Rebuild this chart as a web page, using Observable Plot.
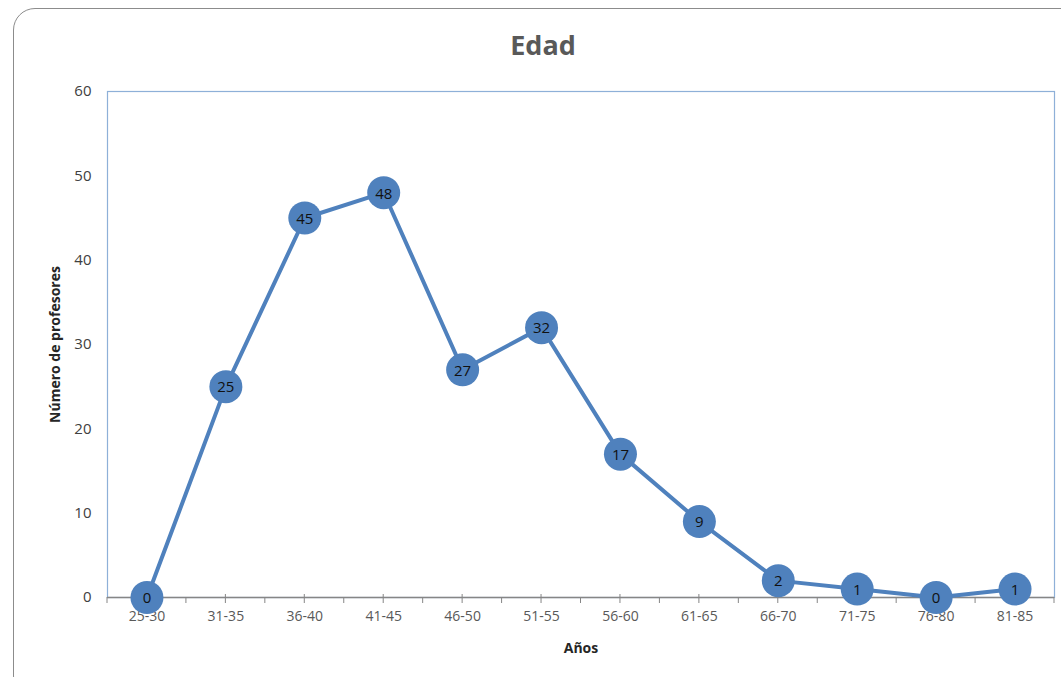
<!DOCTYPE html>
<html>
<head>
<meta charset="utf-8">
<script src="https://cdn.jsdelivr.net/npm/d3@7"></script>
<script src="https://cdn.jsdelivr.net/npm/@observablehq/plot@0.6"></script>
<style>
  html, body { margin: 0; padding: 0; background: #fff; }
  #wrap { position: relative; width: 1061px; height: 677px; overflow: hidden; font-family: "Open Sans", "Noto Sans", sans-serif; }
  #box { position: absolute; left: 13px; top: 8px; width: 1070px; height: 690px; border: 1.5px solid #8c8c8c; border-radius: 22px; box-sizing: border-box; }
  #title { position: absolute; left: 443px; width: 200px; top: 26px; text-align: center; font-size: 27px; font-weight: bold; color: #595959; }
  #chart { position: absolute; left: 0; top: 0; }
</style>
</head>
<body>
<div id="wrap">
  <div id="box"></div>
  <div id="title">Edad</div>
  <div id="chart"></div>
</div>
<script>
const categories = ["25-30","31-35","36-40","41-45","46-50","51-55","56-60","61-65","66-70","71-75","76-80","81-85"];
const values = [0, 25, 45, 48, 27, 32, 17, 9, 2, 1, 0, 1];
const yTicks = [0, 10, 20, 30, 40, 50, 60];
const yLabel = "Número de profesores";
const xLabel = "Años";

const data = categories.map((c, i) => ({cat: c, v: values[i]}));
const blue = "#4f81bd";

function boundaryTicks(index, scales, values, dimensions) {
  const x = scales.x, y = scales.y;
  const step = x(categories[1]) - x(categories[0]);
  const g = d3.create("svg:g");
  const y0 = y(0);
  const bounds = categories.map(c => x(c) - step / 2).concat([x(categories[categories.length - 1]) + step / 2]);
  for (const b of bounds) {
    g.append("line").attr("x1", b).attr("x2", b).attr("y1", y0).attr("y2", y0 + 6)
      .attr("stroke", "#868686").attr("stroke-width", 1);
  }
  for (const c of categories) {
    g.append("line").attr("x1", x(c)).attr("x2", x(c)).attr("y1", y0 - 3).attr("y2", y0 + 6)
      .attr("stroke", "#868686").attr("stroke-width", 1);
  }
  return g.node();
}

const chart = Plot.plot({
  width: 1061,
  height: 677,
  marginLeft: 107,
  marginRight: 7,
  marginTop: 91,
  marginBottom: 80,
  style: { fontFamily: "'Open Sans', 'Noto Sans', sans-serif", background: "transparent", overflow: "visible" },
  x: { type: "point", domain: categories, padding: 0.5, round: false, insetLeft: 0, insetRight: 0, label: null },
  y: { domain: [0, 60], insetTop: 0, insetBottom: 0, label: null },
  marks: [
    Plot.frame({ stroke: "#8eb0d8", strokeWidth: 1.2 }),
    Plot.ruleY([0], { stroke: "#868686", strokeWidth: 1.3 }),
    Plot.axisY(yTicks, { tickSize: 0, tickPadding: 16, fontSize: 15, fill: "#404040", label: null }),
    Plot.axisX(categories, { tickSize: 0, tickPadding: 14, fontSize: 14, fill: "#595959", label: null }),
    boundaryTicks,
    Plot.line(data, { x: "cat", y: "v", stroke: blue, strokeWidth: 4 }),
    Plot.dot(data, { x: "cat", y: "v", r: 16.5, fill: blue, stroke: "none" }),
    Plot.text(data, { x: "cat", y: "v", text: d => String(d.v), fill: "#111", fontSize: 15, dy: 1 }),
    Plot.text([yLabel], { frameAnchor: "left", textAnchor: "middle", lineAnchor: "middle", rotate: -90, dx: -52, fontSize: 14, fontWeight: "bold", fill: "#262626" }),
    Plot.text([xLabel], { frameAnchor: "bottom", lineAnchor: "middle", dy: 51, fontSize: 14, fontWeight: "bold", fill: "#262626" })
  ]
});
document.getElementById("chart").appendChild(chart);
</script>
</body>
</html>
